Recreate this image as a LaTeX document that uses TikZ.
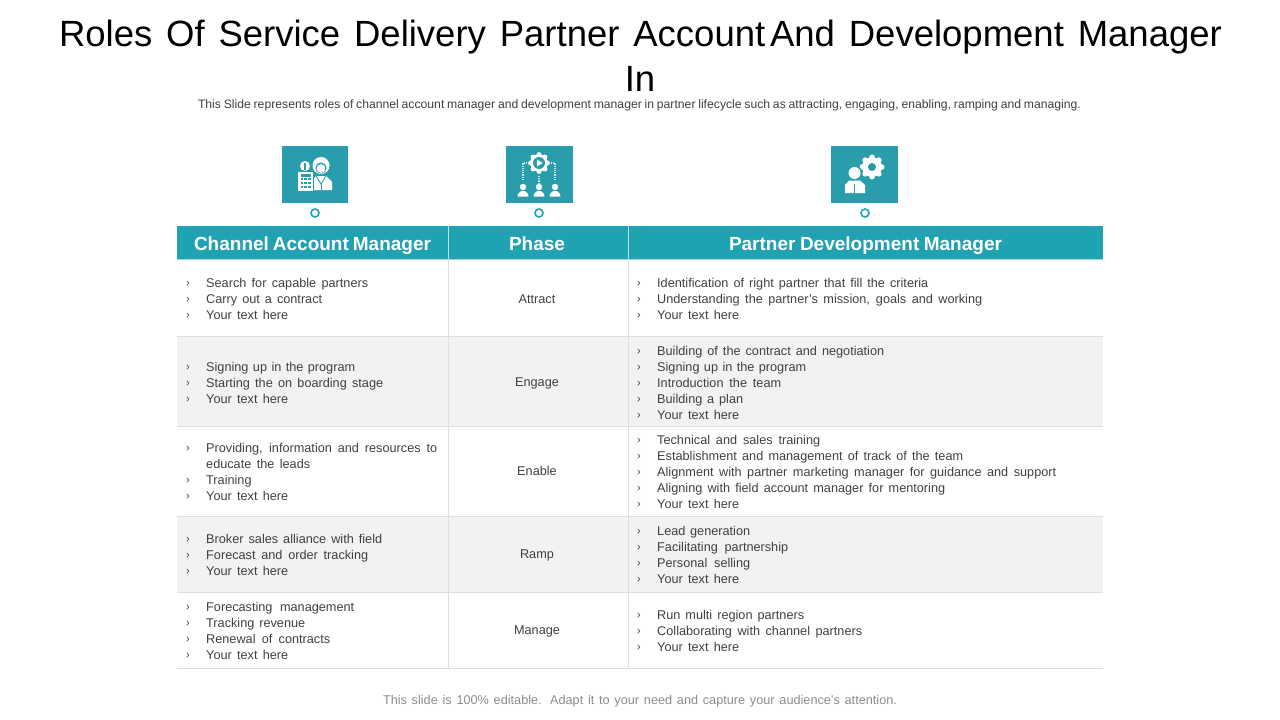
\documentclass[tikz,border=0pt]{standalone}
\usepackage{fontspec}
\setmainfont{Liberation Sans}
\usepackage{color}
\usetikzlibrary{positioning}
\definecolor{tealbar}{HTML}{1FA2B2}
\definecolor{tealbox}{HTML}{2A9DAD}
\definecolor{rowgrey}{HTML}{F2F2F2}
\definecolor{ruleline}{HTML}{DEDEDE}
\definecolor{bodytext}{HTML}{404040}
\definecolor{notetext}{HTML}{8C8C8C}
\newcommand{\gearicon}[3]{% x, y, radius
  \foreach \a in {0,45,...,315}
    \fill [white] (#1,#2) ++(\a:#3*0.8) circle (#3*0.24);
  \fill [white] (#1,#2) circle (#3*0.82);
}
\newcommand{\personicon}[3]{% x, y of head, size
  \fill [white] (#1,#2) circle (#3*0.4);
  \fill [white] (#1-#3*0.68,#2+#3*1.2) -- (#1-#3*0.62,#2+#3*0.85) -- (#1-#3*0.22,#2+#3*0.5) -- (#1+#3*0.22,#2+#3*0.5) -- (#1+#3*0.62,#2+#3*0.85) -- (#1+#3*0.68,#2+#3*1.2) -- cycle;
}
\begin{document}
\begin{tikzpicture}
[x=1pt,y=-1pt,
headcell/.style = {anchor=base, inner sep=0pt, text=white, font=\fontsize{19}{21}\selectfont\bfseries},
itemtext/.style = {anchor=base west, yshift=-4.5pt, inner sep=0pt, text=bodytext, font=\fontsize{12.7}{14}\selectfont},
itemmark/.style = {anchor=base, yshift=-3.5pt, inner sep=0pt, text=bodytext, font=\fontsize{11}{12}\selectfont},
phasetext/.style = {anchor=base, yshift=-4.5pt, inner sep=0pt, text=bodytext, font=\fontsize{12.7}{14}\selectfont},
iconbox/.style = {fill=tealbox, draw=none},
ringdot/.style = {draw=tealbar, fill=white, line width=1.6pt, circle, minimum size=8pt, inner sep=0pt},
]
\useasboundingbox (0,0) rectangle (1280,720);
% title and notes
\node (title1) at (640.5,46) [anchor=base,inner sep=0pt,font=\fontsize{36.5}{40}\selectfont] {\makebox[1163pt][s]{Roles Of Service Delivery Partner Account\hspace*{-9pt} And Development Manager}};
\node (title2) at (640,91) [anchor=base,inner sep=0pt,font=\fontsize{36.5}{40}\selectfont] {In};
\node (subnote) at (639.5,108.5) [anchor=base,inner sep=0pt,text=bodytext,font=\fontsize{12.2}{14}\selectfont] {\makebox[883pt][s]{This Slide represents roles of channel account manager and development manager in partner lifecycle such as attracting, engaging, enabling, ramping and managing.}};
\node (footnote) at (640,704.5) [anchor=base,inner sep=0pt,text=notetext,font=\fontsize{12.7}{14}\selectfont] {\makebox[514pt][s]{This slide is 100\% editable. Adapt it to your need and capture your audience's attention.}};
% icons
\fill [iconbox] (282,146) rectangle (348,203);
\fill [iconbox] (506,146) rectangle (573,203);
\fill [iconbox] (831,146) rectangle (898,203);
\node (ringA) at (315,213) [ringdot] {};
\node (ringB) at (539,213) [ringdot] {};
\node (ringC) at (865,213) [ringdot] {};
% woman and calculator
\fill [white] (321,165.5) circle (8.5);
\fill [tealbox] (321,168) circle (5.6);
\fill [white] (321,168.5) circle (4.4);
\fill [white] (311,190) -- (311,182) -- (316,176) -- (326,176) -- (332,182) -- (332,190) -- cycle;
\draw [tealbox,line width=0.8pt] (316,176) -- (321,184) -- (326,176);
\draw [tealbox,line width=0.8pt] (321,184) -- (321,190);
\fill [white] (305,166) circle (5);
\fill [tealbox] (304.3,162.5) rectangle (305.7,169.5);
\fill [tealbox] (296.8,170.8) rectangle (314.2,192);
\fill [white] (298,172) rectangle (313,191);
\foreach \i in {0,1,2} \foreach \j in {0,1,2}
  \fill [tealbox] (300.5+\i*3.8,178+\j*4) rectangle ++(2.4,2.4);
\fill [tealbox] (300.5,174) rectangle (310.5,176.5);
% gear and team
\gearicon{539}{163}{10.5}
\fill [tealbox] (539,163) circle (6);
\fill [white] (537,159.5) -- (537,166.5) -- (542.5,163) -- cycle;
\draw [white!75!tealbox,densely dotted,line width=1.2pt] (539,176) -- (539,183);
\draw [white!75!tealbox,densely dotted,line width=1.2pt] (527,163) -- (523,163) -- (523,181);
\draw [white!75!tealbox,densely dotted,line width=1.2pt] (551,163) -- (555,163) -- (555,181);
\personicon{523}{187}{8}
\personicon{539}{187}{8}
\personicon{555}{187}{8}
% gear and person
\gearicon{872}{167}{12}
\fill [tealbox] (872,167) circle (4);
\fill [tealbox] (854,173) circle (8);
\fill [tealbox] (843,179) rectangle (867,195);
\fill [white] (854.5,173) circle (6);
\fill [white] (845,193) -- (845,185) -- (849,180.5) -- (860,180.5) -- (865,185) -- (865,193) -- cycle;
\draw [tealbox,line width=1.2pt] (854.5,184) -- (854.5,193);
% table
\fill [tealbar] (177,226) rectangle (1103,259);
\fill [rowgrey] (177,336) rectangle (1103,426);
\fill [rowgrey] (177,516) rectangle (1103,592);
\foreach \y in {336,426,516,592,668}
  \draw [ruleline] (177,\y) -- (1103,\y);
\foreach \x in {448,628} {
  \draw [ruleline] (\x,259) -- (\x,668);
  \draw [white!70!tealbar] (\x,226) -- (\x,259);
}
\draw [white!60!tealbar] (177,259) -- (1103,259);
\node (headA) at (312.5,250) [headcell] {\makebox[237pt][s]{Channel Account Manager}};
\node (headB) at (537,250) [headcell] {Phase};
\node (headC) at (865.5,250) [headcell] {\makebox[273pt][s]{Partner Development Manager}};
% phases
\foreach \y/\t [count=\i] in {299/Attract,382/Engage,471/Enable,554/Ramp,630/Manage}
  \node (phase\i) at (537,\y) [phasetext] {\t};
% channel account manager column
\foreach \y/\w/\t [count=\i] in {
  283/162/Search for capable partners,
  299/116/Carry out a contract,
  315/82/Your text here,
  366.5/149/Signing up in the program,
  382.5/177/Starting the on boarding stage,
  398.5/82/Your text here,
  447.5/231/{Providing, information and resources to},
  479.5/44/Training,
  495.5/82/Your text here,
  538.5/176/Broker sales alliance with field,
  554.5/162/Forecast and order tracking,
  570.5/82/Your text here,
  606.5/148/Forecasting management,
  622.5/99/Tracking revenue,
  638.5/124/Renewal of contracts,
  654.5/82/Your text here} {
  \node (chanmark\i) at (188,\y) [itemmark] {›};
  \node (chanitem\i) at (206,\y) [itemtext] {\makebox[\w pt][s]{\t}};
}
\node (chanextra) at (206,463.5) [itemtext] {\makebox[104pt][s]{educate the leads}};
% partner development manager column
\foreach \y/\w/\t [count=\i] in {
  283/271/Identification of right partner that fill the criteria,
  299/325/{Understanding the partner's mission, goals and working},
  315/82/Your text here,
  350.5/227/Building of the contract and negotiation,
  366.5/149/Signing up in the program,
  382.5/124/Introduction the team,
  398.5/86/Building a plan,
  414.5/82/Your text here,
  439.5/163/Technical and sales training,
  455.5/306/Establishment and management of track of the team,
  471.5/399/Alignment with partner marketing manager for guidance and support,
  487.5/288/Aligning with field account manager for mentoring,
  503.5/82/Your text here,
  530.5/93/Lead generation,
  546.5/131/Facilitating partnership,
  562.5/93/Personal selling,
  578.5/82/Your text here,
  614.5/147/Run multi region partners,
  630.5/205/Collaborating with channel partners,
  646.5/82/Your text here} {
  \node (partmark\i) at (639,\y) [itemmark] {›};
  \node (partitem\i) at (657,\y) [itemtext] {\makebox[\w pt][s]{\t}};
}
\end{tikzpicture}
\end{document}
